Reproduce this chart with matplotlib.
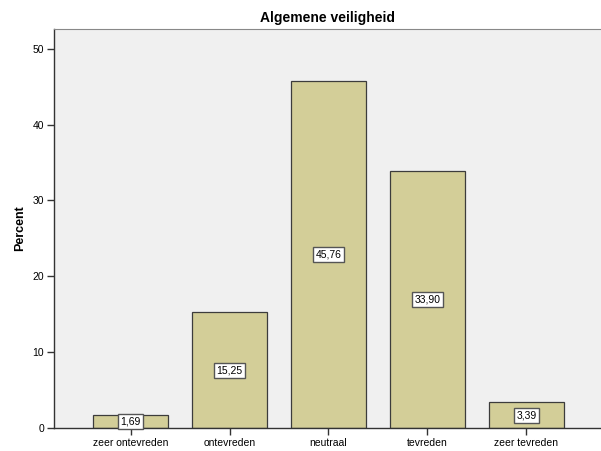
import matplotlib

matplotlib.use("Agg")
import matplotlib.pyplot as plt

categories = ["zeer ontevreden", "ontevreden", "neutraal", "tevreden", "zeer tevreden"]
percent = [1.69, 15.25, 45.76, 33.90, 3.39]
yticks = [0, 10, 20, 30, 40, 50]

plt.rcParams["font.family"] = ["Liberation Sans", "DejaVu Sans"]

fig = plt.figure(figsize=(6.01, 4.51), dpi=100)
ax = fig.add_axes([54 / 601, 23 / 451, 1 - 54 / 601, 399 / 451])
ax.set_facecolor("#f0f0f0")

x = range(len(categories))
ax.bar(x, percent, width=0.758, color="#d3ce98", edgecolor="#3c3c3c", linewidth=0.9, zorder=2)

for xi, v in zip(x, percent):
    label = f"{v:.2f}".replace(".", ",")
    ax.text(xi, v / 2, label, ha="center", va="center", fontsize=7.5, zorder=3,
            bbox=dict(boxstyle="square,pad=0.25", facecolor="white", edgecolor="#555555", linewidth=1))

ax.set_xlim(-0.773, 4.753)
ax.set_ylim(0, 52.6)
ax.set_xticks(list(x))
ax.set_xticklabels(categories, fontsize=7.5)
ax.set_yticks(yticks)
ax.set_yticklabels([str(t) for t in yticks], fontsize=7.5)
ax.tick_params(axis="both", length=5, width=1, color="#333333", pad=2)

for side in ("left", "bottom"):
    ax.spines[side].set_color("#333333")
    ax.spines[side].set_linewidth(1)
ax.spines["top"].set_color("#888888")
ax.spines["right"].set_visible(False)

ax.set_ylabel("Percent", fontsize=9, fontweight="bold", labelpad=5)
ax.set_title("Algemene veiligheid", fontsize=10, fontweight="bold", pad=5)

fig.savefig("out.png", dpi=100)
